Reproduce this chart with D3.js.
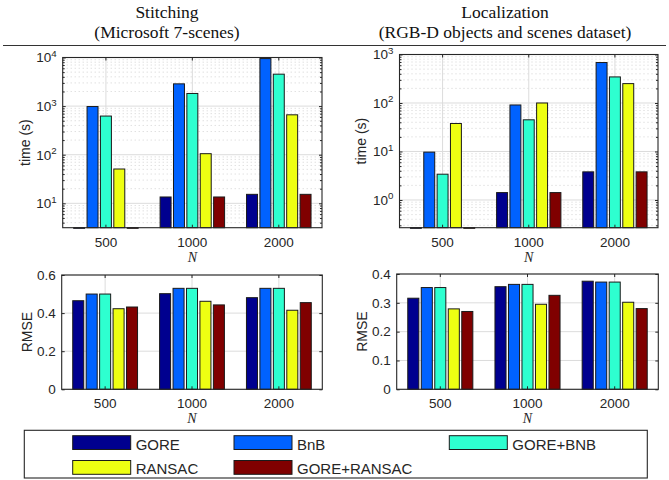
<!DOCTYPE html>
<html>
<head>
<meta charset="utf-8">
<script src="https://cdn.jsdelivr.net/npm/d3@7"></script>
<style>
  body { margin: 0; background: #fff; }
  svg { display: block; font-family: "Liberation Sans", Arial, sans-serif; }
</style>
</head>
<body>
<svg width="669" height="480"></svg>
<script>
const svg = d3.select('svg');

const categories = ['500', '1000', '2000'];
const methods = ['GORE', 'BnB', 'GORE+BNB', 'RANSAC', 'GORE+RANSAC'];
const methodColors = ['#00008f', '#0062ff', '#2effd0', '#eeff12', '#800000'];

// time (s): one row per method, one column per N
// GORE / GORE+RANSAC at N=500 sit below the axis floor, so those are guesses
const stitchTime = [
  [1.2, 13.5, 15.3],
  [980, 2870, 9500],
  [624, 1820, 4540],
  [50.8, 105, 662],
  [1.2, 13.5, 15.3]
];
const locTime = [
  [0.15, 1.42, 3.8],
  [9.7, 91, 683],
  [3.4, 45, 345],
  [37.8, 100, 251],
  [0.15, 1.42, 3.8]
];

// RMSE
const stitchRmse = [
  [0.465, 0.502, 0.481],
  [0.500, 0.530, 0.530],
  [0.500, 0.530, 0.530],
  [0.423, 0.462, 0.415],
  [0.432, 0.443, 0.455]
];
const locRmse = [
  [0.316, 0.356, 0.375],
  [0.353, 0.364, 0.372],
  [0.353, 0.364, 0.372],
  [0.279, 0.295, 0.302],
  [0.270, 0.326, 0.280]
];

const stitchTimeTicks = [10, 100, 1000, 10000];
const locTimeTicks = [1, 10, 100, 1000];
const stitchRmseTicks = [0, 0.2, 0.4, 0.6];
const locRmseTicks = [0, 0.1, 0.2, 0.3, 0.4];

const axisColor = '#262626';
const gridColor = '#dcdcdc';
const tickFont = 13.5;

const drawPanel = cfg => {
  const { box, values, log, yDomain, yTicks, yLabel, labelX } = cfg;
  const w = box.x1 - box.x0;
  const h = box.y1 - box.y0;

  const g = svg.append('g')
    .attr('transform', `translate(${box.x0},${box.y0})`);

  const xScale = d3.scaleBand()
    .domain(categories)
    .range([0, w]);

  const xInner = d3.scaleBand()
    .domain(methods)
    .range([0, xScale.bandwidth()])
    .paddingInner(0.18)
    .paddingOuter(0.82);

  const yScale = (log ? d3.scaleLog() : d3.scaleLinear())
    .domain(yDomain)
    .range([h, 0]);

  // minor values for log axes (2..9 in every decade)
  let minors = [];
  if (log) {
    const e0 = Math.floor(Math.log10(yDomain[0]));
    const e1 = Math.ceil(Math.log10(yDomain[1]));
    for (let e = e0; e < e1; e++) {
      for (let k = 2; k <= 9; k++) {
        const v = k * Math.pow(10, e);
        if (v > yDomain[0] && v < yDomain[1]) minors.push(v);
      }
    }
  }

  // grid
  const gridG = g.append('g').attr('class', 'grid');
  gridG.selectAll('.minor').data(minors)
    .enter().append('line')
      .attr('x1', 0).attr('x2', w)
      .attr('y1', d => yScale(d)).attr('y2', d => yScale(d))
      .attr('stroke', '#c8c8c8')
      .attr('stroke-width', 0.8)
      .attr('stroke-dasharray', '1,3');
  gridG.selectAll('.major').data(yTicks)
    .enter().append('line')
      .attr('x1', 0).attr('x2', w)
      .attr('y1', d => yScale(d)).attr('y2', d => yScale(d))
      .attr('stroke', gridColor);
  gridG.selectAll('.vert').data(categories)
    .enter().append('line')
      .attr('x1', d => xScale(d) + xScale.bandwidth() / 2)
      .attr('x2', d => xScale(d) + xScale.bandwidth() / 2)
      .attr('y1', 0).attr('y2', h)
      .attr('stroke', gridColor);

  // bars
  const barsG = g.append('g').attr('class', 'bars');
  methods.forEach((m, i) => {
    barsG.selectAll(`.bar-${i}`).data(values[i])
      .enter().append('rect')
        .attr('x', (d, j) => xScale(categories[j]) + xInner(m))
        .attr('y', d => Math.min(yScale(d), h))
        .attr('width', xInner.bandwidth())
        .attr('height', d => Math.max(h - Math.min(yScale(d), h), 0.6))
        .attr('fill', methodColors[i])
        .attr('stroke', '#1a1a1a')
        .attr('stroke-width', 1);
  });

  // y axis with labels
  const yAxis = d3.axisLeft(yScale)
    .tickValues(yTicks)
    .tickSize(-3)
    .tickPadding(6)
    .tickFormat(d3.format('~g'));
  const yAxisG = g.append('g').call(yAxis);
  yAxisG.select('.domain').remove();
  yAxisG.selectAll('.tick line').attr('stroke', axisColor);
  yAxisG.selectAll('.tick text')
    .attr('fill', axisColor)
    .attr('font-size', tickFont)
    .attr('font-family', '"Liberation Sans", Arial, sans-serif');

  if (log) {
    yAxisG.selectAll('.tick text')
      .text(null)
      .each(function (d) {
        const t = d3.select(this);
        t.append('tspan').text('10');
        t.append('tspan')
          .attr('dy', '-0.55em')
          .attr('font-size', '0.72em')
          .text(Math.round(Math.log10(d)));
      });
    const minorAxis = d3.axisLeft(yScale).tickValues(minors).tickSize(-2).tickFormat('');
    const minorG = g.append('g').call(minorAxis);
    minorG.select('.domain').remove();
    minorG.selectAll('line').attr('stroke', axisColor);
    const minorR = g.append('g')
      .attr('transform', `translate(${w},0)`)
      .call(d3.axisRight(yScale).tickValues(minors).tickSize(-2).tickFormat(''));
    minorR.select('.domain').remove();
    minorR.selectAll('line').attr('stroke', axisColor);
  }

  const yRight = g.append('g')
    .attr('transform', `translate(${w},0)`)
    .call(d3.axisRight(yScale).tickValues(yTicks).tickSize(-3).tickFormat(''));
  yRight.select('.domain').remove();
  yRight.selectAll('line').attr('stroke', axisColor);

  // x axis
  const xAxisG = g.append('g')
    .attr('transform', `translate(0,${h})`)
    .call(d3.axisBottom(xScale).tickSize(-3).tickPadding(9.5));
  xAxisG.select('.domain').remove();
  xAxisG.selectAll('.tick line').attr('stroke', axisColor);
  xAxisG.selectAll('.tick text')
    .attr('fill', axisColor)
    .attr('font-size', tickFont)
    .attr('font-family', '"Liberation Sans", Arial, sans-serif');

  const xTop = g.append('g')
    .call(d3.axisTop(xScale).tickSize(-3).tickFormat(''));
  xTop.select('.domain').remove();
  xTop.selectAll('line').attr('stroke', axisColor);

  // frame
  g.append('rect')
    .attr('width', w)
    .attr('height', h)
    .attr('fill', 'none')
    .attr('stroke', axisColor)
    .attr('stroke-width', 1.1);

  // y label
  g.append('text')
    .text(yLabel)
    .attr('transform', `translate(${labelX - box.x0},${h / 2}) rotate(-90)`)
    .attr('text-anchor', 'middle')
    .attr('font-size', 14)
    .attr('fill', axisColor);

  // N label
  g.append('text')
    .text('N')
    .attr('x', w / 2)
    .attr('y', h + 34)
    .attr('text-anchor', 'middle')
    .attr('font-family', '"Liberation Serif", "Times New Roman", serif')
    .attr('font-style', 'italic')
    .attr('font-size', 14)
    .attr('fill', axisColor);
};

// titles
const titles = [
  { x: 167, lines: ['Stitching', '(Microsoft 7-scenes)'] },
  { x: 505, lines: ['Localization', '(RGB-D objects and scenes dataset)'] }
];
titles.forEach(t => {
  t.lines.forEach((line, i) => {
    svg.append('text')
      .text(line)
      .attr('x', t.x)
      .attr('y', 18 + i * 19.5)
      .attr('text-anchor', 'middle')
      .attr('font-family', '"Liberation Serif", "Times New Roman", serif')
      .attr('font-size', 17.5)
      .attr('fill', '#111');
  });
});
svg.append('line')
  .attr('x1', 3).attr('x2', 353).attr('y1', 45.5).attr('y2', 45.5)
  .attr('stroke', '#333').attr('stroke-width', 1.2);
svg.append('line')
  .attr('x1', 338).attr('x2', 666).attr('y1', 45.5).attr('y2', 45.5)
  .attr('stroke', '#333').attr('stroke-width', 1.2);

drawPanel({
  box: { x0: 62.7, x1: 322, y0: 57.5, y1: 227.7 },
  values: stitchTime, log: true, yDomain: [3.15, 10000],
  yTicks: stitchTimeTicks, yLabel: 'time (s)', labelX: 29.5
});
drawPanel({
  box: { x0: 399.5, x1: 658, y0: 54.5, y1: 227.7 },
  values: locTime, log: true, yDomain: [0.268, 1000],
  yTicks: locTimeTicks, yLabel: 'time (s)', labelX: 366
});
drawPanel({
  box: { x0: 61.7, x1: 322.3, y0: 275, y1: 389.3 },
  values: stitchRmse, log: false, yDomain: [0, 0.6],
  yTicks: stitchRmseTicks, yLabel: 'RMSE', labelX: 32
});
drawPanel({
  box: { x0: 396.7, x1: 658.3, y0: 274, y1: 389.3 },
  values: locRmse, log: false, yDomain: [0, 0.4],
  yTicks: locRmseTicks, yLabel: 'RMSE', labelX: 366.5
});

// legend
const legend = svg.append('g').attr('class', 'legend');
legend.append('rect')
  .attr('x', 24.3).attr('y', 430.3)
  .attr('width', 623).attr('height', 47.7)
  .attr('fill', '#fff')
  .attr('stroke', axisColor)
  .attr('stroke-width', 1.1);

const legendCols = [72.7, 234, 449.3];
const legendRows = [435.7, 460.5];
methods.forEach((m, i) => {
  const item = legend.append('g')
    .attr('transform', `translate(${legendCols[i % 3]},${legendRows[Math.floor(i / 3)]})`);
  item.append('rect')
    .attr('width', 58)
    .attr('height', 13.8)
    .attr('fill', methodColors[i])
    .attr('stroke', '#1a1a1a')
    .attr('stroke-width', 1);
  item.append('text')
    .text(m)
    .attr('x', 63)
    .attr('y', 13.8)
    .attr('font-size', 15)
    .attr('fill', axisColor);
});
</script>
</body>
</html>
